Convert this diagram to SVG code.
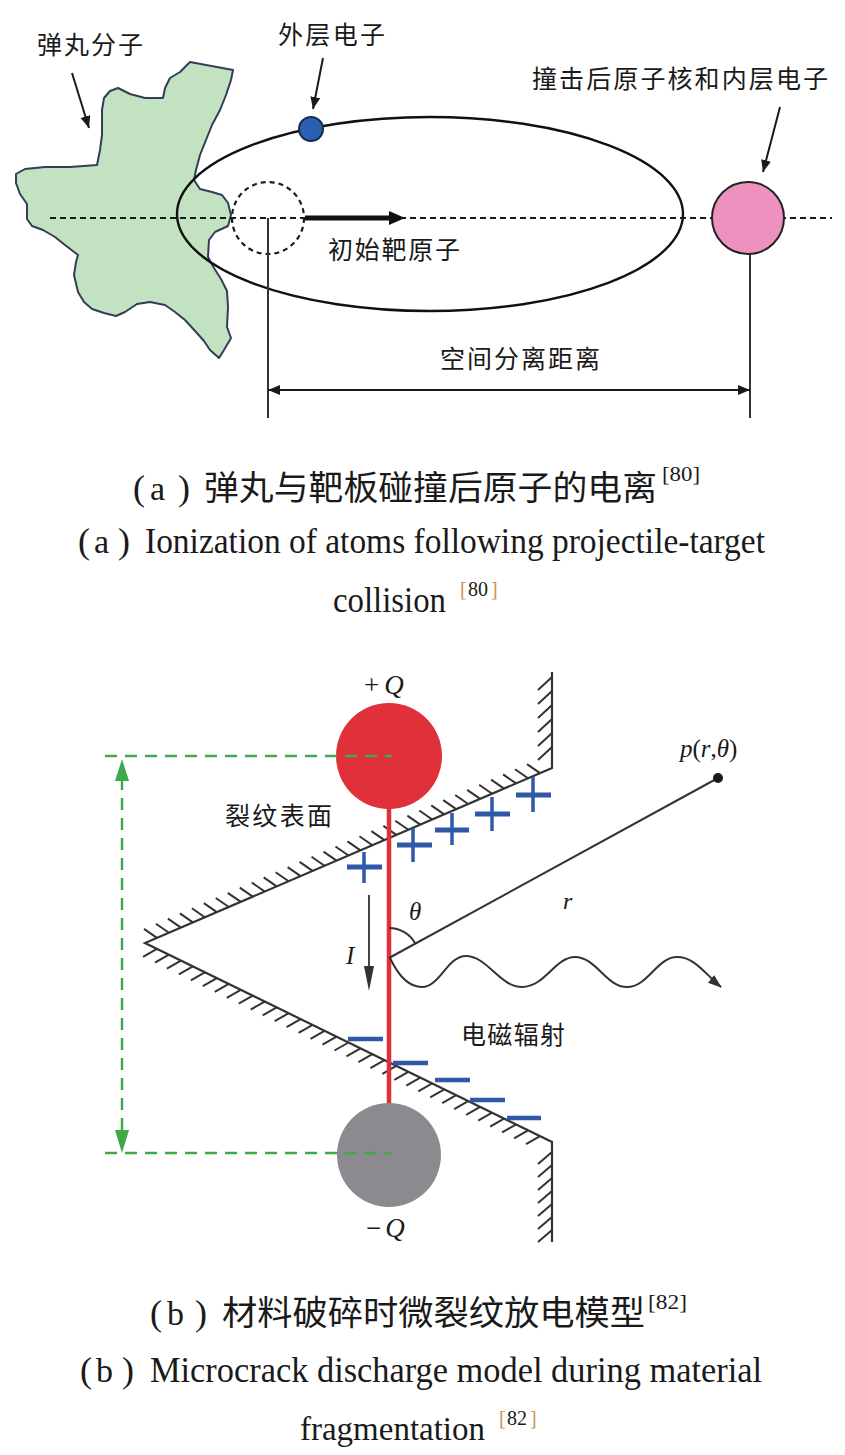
<svg xmlns="http://www.w3.org/2000/svg" width="845" height="1455" viewBox="0 0 845 1455">
<style>
.cjk{font-family:'Noto Sans CJK SC',sans-serif;fill:#1a1a1a}
.lab{font-size:25px}
.cap{font-size:34px}
.en{font-family:'Liberation Serif',serif;fill:#1a1a1a}
.ecap{font-size:36px}
.sup{font-size:20px}
.it{font-family:'Liberation Serif',serif;font-style:italic;fill:#1a1a1a}
.ln{stroke:#1a1a1a;fill:none;stroke-width:2}
.gr{stroke:#333;fill:none;stroke-width:2}
.dash{stroke:#1a1a1a;fill:none;stroke-width:2;stroke-dasharray:6 4}
.gd{stroke:#3daa47;fill:none;stroke-width:2.4;stroke-dasharray:12 8}
.bl{stroke:#2f58a8;fill:none;stroke-linecap:butt}
.orb{fill:#c8955a}
</style>
<defs>
<marker id="ah" viewBox="0 0 12 10" refX="12" refY="5" markerWidth="12" markerHeight="10" markerUnits="userSpaceOnUse" orient="auto-start-reverse">
<path d="M0,0 L12,5 L0,10 z" fill="#1a1a1a"/>
</marker>
<marker id="wh" viewBox="0 0 14 10" refX="13" refY="5" markerWidth="14" markerHeight="10" markerUnits="userSpaceOnUse" orient="auto">
<path d="M0,0 L14,5 L0,10 z" fill="#333"/>
</marker>
</defs>

<!-- ===== (a) top diagram ===== -->
<g id="projectile">
<path d="M190,62 L233,70 L231,80 L226,95 L220,110 L212,125 L206,140 L200,155 L196,170 L194,180 L200,189 L212,192 L222,195 L228,203 L231,215 L228,226 L215,232 L209,240 L208,257 L214,268 L221,279 L227,291 L228,307 L227,327 L231,338 L224,350 L219,358 L210,350 L204,341 L196,332 L185,320 L175,312 L165,305 L150,302 L137,304 L125,312 L116,316 L104,313 L92,309 L84,302 L78,292 L74,275 L76,262 L78,255 L65,245 L55,237 L43,230 L32,226 L27,219 L27,204 L20,194 L16,183 L16,174 L25,169 L45,167 L70,167 L97,165 L100,150 L102,135 L102,110 L104,98 L110,91 L118,88 L130,94 L145,98 L163,98 L165,88 L170,78 L180,72 L186,66 Z" fill="#c3e2c1" stroke="#333d55" stroke-width="2" stroke-linejoin="round"/>
</g>
<g id="orbit">
<ellipse cx="430" cy="214" rx="253" ry="97" fill="none" stroke="#111" stroke-width="2.4"/>
</g>
<g id="axis">
<line x1="50" y1="218" x2="832" y2="218" class="dash"/>
</g>
<g id="initial-atom">
<circle cx="268" cy="218" r="36" fill="none" stroke="#1a1a1a" stroke-width="2.2" stroke-dasharray="5 4"/>
<line x1="305" y1="218" x2="392" y2="218" stroke="#111" stroke-width="5"/>
<polygon points="389,211 405,218 389,225" fill="#111"/>
<text x="328" y="259" class="cjk lab" textLength="132">初始靶原子</text>
</g>
<g id="outer-electron">
<circle cx="311" cy="129" r="12" fill="#2b5fb4" stroke="#1a2a4a" stroke-width="2"/>
<text x="278" y="44" class="cjk lab" textLength="107">外层电子</text>
</g>
<g id="nucleus">
<circle cx="748" cy="218" r="36" fill="#ee91bf" stroke="#222" stroke-width="2"/>
<text x="532" y="88" class="cjk lab" textLength="296">撞击后原子核和内层电子</text>
</g>
<g id="projectile-label">
<text x="37" y="54" class="cjk lab" textLength="106">弹丸分子</text>
</g>
<g id="distance">
<line x1="268" y1="218" x2="268" y2="418" class="gr"/>
<line x1="750" y1="254" x2="750" y2="418" class="gr"/>
<text x="440" y="368" class="cjk lab" textLength="160">空间分离距离</text>
</g>
<g id="connectors-a">
<line x1="72" y1="73" x2="89" y2="128" class="ln" marker-end="url(#ah)"/>
<line x1="323" y1="58" x2="313" y2="109" class="ln" marker-end="url(#ah)"/>
<line x1="780" y1="107" x2="763" y2="172" class="ln" marker-end="url(#ah)"/>
<line x1="268" y1="390" x2="750" y2="390" class="ln" marker-start="url(#ah)" marker-end="url(#ah)"/>
</g>

<!-- captions a -->
<g id="caption-a">
<text x="133" y="500" class="en" font-size="36">(</text>
<text x="150" y="500" class="en" font-size="34">a</text>
<text x="178" y="500" class="en" font-size="36">)</text>
<text x="204" y="500" class="cjk cap" textLength="453" lengthAdjust="spacingAndGlyphs">弹丸与靶板碰撞后原子的电离</text>
<text x="662" y="481" class="en sup" textLength="38" lengthAdjust="spacingAndGlyphs">[80]</text>
<text x="78" y="553" class="en" font-size="36">(</text>
<text x="94" y="553" class="en" font-size="34">a</text>
<text x="118" y="553" class="en" font-size="36">)</text>
<text x="145" y="553" class="en ecap" textLength="620" lengthAdjust="spacingAndGlyphs">Ionization of atoms following projectile-target</text>
<text x="333" y="612" class="en ecap" textLength="113" lengthAdjust="spacingAndGlyphs">collision</text>
<text x="460" y="596" class="en sup orb">[</text>
<text x="468" y="596" class="en sup">80</text>
<text x="491" y="596" class="en sup orb">]</text>
</g>

<!-- ===== (b) bottom diagram ===== -->
<g id="crack-surface">
<path d="M552,672 L552,768 L145,943 L552,1142 L552,1242" fill="none" stroke="#333" stroke-width="2.2" stroke-linejoin="miter"/>
<path class="gr" d="M156.97,937.85 l-13,-9 m24.97,3.853 l-13,-9 m24.97,3.853 l-13,-9 m24.97,3.853 l-13,-9 m24.97,3.853 l-13,-9 m24.97,3.853 l-13,-9 m24.97,3.853 l-13,-9 m24.97,3.853 l-13,-9 m24.97,3.853 l-13,-9 m24.97,3.853 l-13,-9 m24.97,3.853 l-13,-9 m24.97,3.853 l-13,-9 m24.97,3.853 l-13,-9 m24.97,3.853 l-13,-9 m24.97,3.853 l-13,-9 m24.97,3.853 l-13,-9 m24.97,3.853 l-13,-9 m24.97,3.853 l-13,-9 m24.97,3.853 l-13,-9 m24.97,3.853 l-13,-9 m24.97,3.853 l-13,-9 m24.97,3.853 l-13,-9 m24.97,3.853 l-13,-9 m24.97,3.853 l-13,-9 m24.97,3.853 l-13,-9 m24.97,3.853 l-13,-9 m24.97,3.853 l-13,-9 m24.97,3.853 l-13,-9 m24.97,3.853 l-13,-9 m24.97,3.853 l-13,-9 m24.97,3.853 l-13,-9 m24.97,3.853 l-13,-9 m24.97,3.853 l-13,-9"/>
<path class="gr" d="M156.97,948.85 l-14,8 m25.97,-2.147 l-14,8 m25.97,-2.147 l-14,8 m25.97,-2.147 l-14,8 m25.97,-2.147 l-14,8 m25.97,-2.147 l-14,8 m25.97,-2.147 l-14,8 m25.97,-2.147 l-14,8 m25.97,-2.147 l-14,8 m25.97,-2.147 l-14,8 m25.97,-2.147 l-14,8 m25.97,-2.147 l-14,8 m25.97,-2.147 l-14,8 m25.97,-2.147 l-14,8 m25.97,-2.147 l-14,8 m25.97,-2.147 l-14,8 m25.97,-2.147 l-14,8 m25.97,-2.147 l-14,8 m25.97,-2.147 l-14,8 m25.97,-2.147 l-14,8 m25.97,-2.147 l-14,8 m25.97,-2.147 l-14,8 m25.97,-2.147 l-14,8 m25.97,-2.147 l-14,8 m25.97,-2.147 l-14,8 m25.97,-2.147 l-14,8 m25.97,-2.147 l-14,8 m25.97,-2.147 l-14,8 m25.97,-2.147 l-14,8 m25.97,-2.147 l-14,8 m25.97,-2.147 l-14,8 m25.97,-2.147 l-14,8 m25.97,-2.147 l-14,8"/>
<path class="gr" d="M552,677 l-14,13 m14,1 l-14,13 m14,1 l-14,13 m14,1 l-14,13 m14,1 l-14,13 m14,1 l-14,13"/>
<path class="gr" d="M552,1152 l-14,12 m14,1 l-14,12 m14,1 l-14,12 m14,1 l-14,12 m14,1 l-14,12 m14,1 l-14,12 m14,1 l-14,12"/>
<text x="225" y="825" class="cjk lab" textLength="107">裂纹表面</text>
</g>
<g id="discharge-channel">
<line x1="389" y1="800" x2="389" y2="1110" stroke="#e0303a" stroke-width="4.5"/>
</g>
<g id="positive-charge">
<circle cx="389" cy="756" r="53" fill="#e0303a"/>
<text x="364" y="694" class="en" font-size="27">+<tspan class="it" dx="5">Q</tspan></text>
</g>
<g id="negative-charge">
<circle cx="389" cy="1155" r="52" fill="#8b8b8f"/>
<text x="366" y="1237" class="en" font-size="27">−<tspan class="it" dx="4">Q</tspan></text>
</g>
<g id="gap-dimension">
<line x1="105" y1="756" x2="392" y2="756" class="gd"/>
<line x1="105" y1="1153" x2="392" y2="1153" class="gd"/>
<line x1="122" y1="778" x2="122" y2="1132" class="gd"/>
<polygon points="115,781 129,781 122,759" fill="#3daa47"/>
<polygon points="115,1130 129,1130 122,1153" fill="#3daa47"/>
</g>
<g id="surface-charges">
<g class="bl">
<path d="M347,867 h35 M397,845 h35 M435,830 h34 M475,814 h35 M516,795 h35" stroke-width="5"/>
<path d="M364,852 v31 M413,828 v34 M452,813 v32 M492,797 v34 M533,777 v35" stroke-width="3.5"/>
<path d="M348,1039 h35 M393,1063 h35 M435,1080 h35 M470,1100 h35 M507,1118 h34" stroke-width="4.5"/>
</g>
</g>
<g id="field-point">
<line x1="389" y1="958" x2="718" y2="778" class="gr"/>
<circle cx="718" cy="778" r="5" fill="#1a1a1a"/>
<text x="680" y="757" class="it" font-size="25">p<tspan font-style="normal">(</tspan>r<tspan font-style="normal">,</tspan>θ<tspan font-style="normal">)</tspan></text>
<text x="563" y="909" class="it" font-size="24">r</text>
<path d="M389,928 A30,30 0 0 1 415.3,943.5" class="gr"/>
<text x="409" y="920" class="it" font-size="25">θ</text>
</g>
<g id="current">
<line x1="369" y1="895" x2="369" y2="968" stroke="#444" stroke-width="2"/>
<polygon points="364,966 374,966 369,991" fill="#333"/>
<text x="346" y="964" class="it" font-size="25">I</text>
</g>
<g id="em-radiation">
<path d="M390,958 C398,975 408,987 422,987 C440,987 447,956 466,956 C487,956 500,987 522,987 C545,987 555,957 575,957 C596,957 606,987 627,987 C648,987 657,957 677,957 C695,957 705,974 721,987" class="gr" marker-end="url(#wh)"/>
<text x="461" y="1044" class="cjk lab" textLength="104">电磁辐射</text>
</g>

<!-- captions b -->
<g id="caption-b">
<text x="150" y="1325" class="en" font-size="36">(</text>
<text x="167" y="1325" class="en" font-size="34">b</text>
<text x="195" y="1325" class="en" font-size="36">)</text>
<text x="222" y="1325" class="cjk cap" textLength="423" lengthAdjust="spacingAndGlyphs">材料破碎时微裂纹放电模型</text>
<text x="648" y="1309" class="en sup" textLength="39" lengthAdjust="spacingAndGlyphs">[82]</text>
<text x="80" y="1382" class="en" font-size="36">(</text>
<text x="96" y="1382" class="en" font-size="34">b</text>
<text x="122" y="1382" class="en" font-size="36">)</text>
<text x="150" y="1382" class="en ecap" textLength="612" lengthAdjust="spacingAndGlyphs">Microcrack discharge model during material</text>
<text x="300" y="1440" class="en" font-size="34" textLength="185" lengthAdjust="spacingAndGlyphs">fragmentation</text>
<text x="499" y="1425" class="en sup orb">[</text>
<text x="507" y="1425" class="en sup">82</text>
<text x="530" y="1425" class="en sup orb">]</text>
</g>
</svg>
